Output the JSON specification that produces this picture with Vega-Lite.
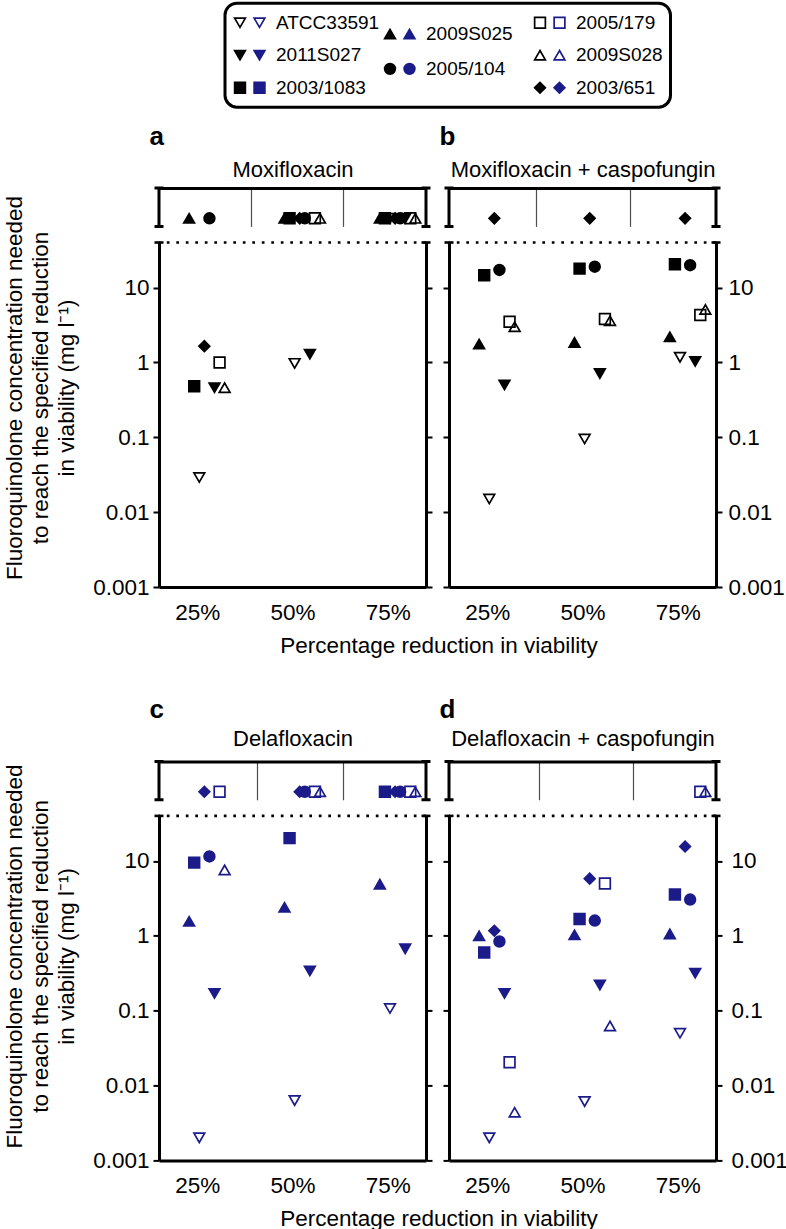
{
  "$schema": "https://vega.github.io/schema/vega-lite/v6.json",
  "padding": {"left": 2, "top": 1, "right": 0, "bottom": 0},
  "datasets": {
    "pts": [
      {"panel":"a","reduction":25,"strain":"ATCC33591","conc":0.029},
      {"panel":"a","reduction":25,"strain":"2011S027","conc":0.46},
      {"panel":"a","reduction":25,"strain":"2003/1083","conc":0.48},
      {"panel":"a","reduction":25,"strain":"2009S025","conc":null},
      {"panel":"a","reduction":25,"strain":"2005/104","conc":null},
      {"panel":"a","reduction":25,"strain":"2005/179","conc":1.0},
      {"panel":"a","reduction":25,"strain":"2009S028","conc":0.46},
      {"panel":"a","reduction":25,"strain":"2003/651","conc":1.65},
      {"panel":"a","reduction":50,"strain":"ATCC33591","conc":0.97},
      {"panel":"a","reduction":50,"strain":"2011S027","conc":1.29},
      {"panel":"a","reduction":50,"strain":"2003/1083","conc":null},
      {"panel":"a","reduction":50,"strain":"2009S025","conc":null},
      {"panel":"a","reduction":50,"strain":"2005/104","conc":null},
      {"panel":"a","reduction":50,"strain":"2005/179","conc":null},
      {"panel":"a","reduction":50,"strain":"2009S028","conc":null},
      {"panel":"a","reduction":50,"strain":"2003/651","conc":null},
      {"panel":"a","reduction":75,"strain":"ATCC33591","conc":null},
      {"panel":"a","reduction":75,"strain":"2011S027","conc":null},
      {"panel":"a","reduction":75,"strain":"2003/1083","conc":null},
      {"panel":"a","reduction":75,"strain":"2009S025","conc":null},
      {"panel":"a","reduction":75,"strain":"2005/104","conc":null},
      {"panel":"a","reduction":75,"strain":"2005/179","conc":null},
      {"panel":"a","reduction":75,"strain":"2009S028","conc":null},
      {"panel":"a","reduction":75,"strain":"2003/651","conc":null},
      {"panel":"b","reduction":25,"strain":"ATCC33591","conc":0.015},
      {"panel":"b","reduction":25,"strain":"2011S027","conc":0.5},
      {"panel":"b","reduction":25,"strain":"2003/1083","conc":14.6},
      {"panel":"b","reduction":25,"strain":"2009S025","conc":1.76},
      {"panel":"b","reduction":25,"strain":"2005/104","conc":17.2},
      {"panel":"b","reduction":25,"strain":"2005/179","conc":3.5},
      {"panel":"b","reduction":25,"strain":"2009S028","conc":3.0},
      {"panel":"b","reduction":25,"strain":"2003/651","conc":null},
      {"panel":"b","reduction":50,"strain":"ATCC33591","conc":0.095},
      {"panel":"b","reduction":50,"strain":"2011S027","conc":0.71},
      {"panel":"b","reduction":50,"strain":"2003/1083","conc":17.9},
      {"panel":"b","reduction":50,"strain":"2009S025","conc":1.85},
      {"panel":"b","reduction":50,"strain":"2005/104","conc":19.0},
      {"panel":"b","reduction":50,"strain":"2005/179","conc":3.8},
      {"panel":"b","reduction":50,"strain":"2009S028","conc":3.6},
      {"panel":"b","reduction":50,"strain":"2003/651","conc":null},
      {"panel":"b","reduction":75,"strain":"ATCC33591","conc":1.17},
      {"panel":"b","reduction":75,"strain":"2011S027","conc":1.03},
      {"panel":"b","reduction":75,"strain":"2003/1083","conc":20.5},
      {"panel":"b","reduction":75,"strain":"2009S025","conc":2.2},
      {"panel":"b","reduction":75,"strain":"2005/104","conc":19.9},
      {"panel":"b","reduction":75,"strain":"2005/179","conc":4.3},
      {"panel":"b","reduction":75,"strain":"2009S028","conc":5.1},
      {"panel":"b","reduction":75,"strain":"2003/651","conc":null},
      {"panel":"c","reduction":25,"strain":"ATCC33591","conc":0.002},
      {"panel":"c","reduction":25,"strain":"2011S027","conc":0.17},
      {"panel":"c","reduction":25,"strain":"2003/1083","conc":9.5},
      {"panel":"c","reduction":25,"strain":"2009S025","conc":1.56},
      {"panel":"c","reduction":25,"strain":"2005/104","conc":11.5},
      {"panel":"c","reduction":25,"strain":"2005/179","conc":null},
      {"panel":"c","reduction":25,"strain":"2009S028","conc":7.6},
      {"panel":"c","reduction":25,"strain":"2003/651","conc":null},
      {"panel":"c","reduction":50,"strain":"ATCC33591","conc":0.0063},
      {"panel":"c","reduction":50,"strain":"2011S027","conc":0.34},
      {"panel":"c","reduction":50,"strain":"2003/1083","conc":20.2},
      {"panel":"c","reduction":50,"strain":"2009S025","conc":2.4},
      {"panel":"c","reduction":50,"strain":"2005/104","conc":null},
      {"panel":"c","reduction":50,"strain":"2005/179","conc":null},
      {"panel":"c","reduction":50,"strain":"2009S028","conc":null},
      {"panel":"c","reduction":50,"strain":"2003/651","conc":null},
      {"panel":"c","reduction":75,"strain":"ATCC33591","conc":0.107},
      {"panel":"c","reduction":75,"strain":"2011S027","conc":0.67},
      {"panel":"c","reduction":75,"strain":"2003/1083","conc":null},
      {"panel":"c","reduction":75,"strain":"2009S025","conc":4.9},
      {"panel":"c","reduction":75,"strain":"2005/104","conc":null},
      {"panel":"c","reduction":75,"strain":"2005/179","conc":null},
      {"panel":"c","reduction":75,"strain":"2009S028","conc":null},
      {"panel":"c","reduction":75,"strain":"2003/651","conc":null},
      {"panel":"d","reduction":25,"strain":"ATCC33591","conc":0.002},
      {"panel":"d","reduction":25,"strain":"2011S027","conc":0.17},
      {"panel":"d","reduction":25,"strain":"2003/1083","conc":0.6},
      {"panel":"d","reduction":25,"strain":"2009S025","conc":1.0},
      {"panel":"d","reduction":25,"strain":"2005/104","conc":0.84},
      {"panel":"d","reduction":25,"strain":"2005/179","conc":0.0205},
      {"panel":"d","reduction":25,"strain":"2009S028","conc":0.0044},
      {"panel":"d","reduction":25,"strain":"2003/651","conc":1.17},
      {"panel":"d","reduction":50,"strain":"ATCC33591","conc":0.0061},
      {"panel":"d","reduction":50,"strain":"2011S027","conc":0.22},
      {"panel":"d","reduction":50,"strain":"2003/1083","conc":1.68},
      {"panel":"d","reduction":50,"strain":"2009S025","conc":1.03},
      {"panel":"d","reduction":50,"strain":"2005/104","conc":1.6},
      {"panel":"d","reduction":50,"strain":"2005/179","conc":5.0},
      {"panel":"d","reduction":50,"strain":"2009S028","conc":0.0625},
      {"panel":"d","reduction":50,"strain":"2003/651","conc":5.8},
      {"panel":"d","reduction":75,"strain":"ATCC33591","conc":0.05},
      {"panel":"d","reduction":75,"strain":"2011S027","conc":0.316},
      {"panel":"d","reduction":75,"strain":"2003/1083","conc":3.57},
      {"panel":"d","reduction":75,"strain":"2009S025","conc":1.06},
      {"panel":"d","reduction":75,"strain":"2005/104","conc":3.05},
      {"panel":"d","reduction":75,"strain":"2005/179","conc":null},
      {"panel":"d","reduction":75,"strain":"2009S028","conc":null},
      {"panel":"d","reduction":75,"strain":"2003/651","conc":15.6}
    ],
    "legend": [
      {"strain":"ATCC33591","col":1,"row":1},
      {"strain":"2011S027","col":1,"row":2},
      {"strain":"2003/1083","col":1,"row":3},
      {"strain":"2009S025","col":2,"row":1.35},
      {"strain":"2005/104","col":2,"row":2.42},
      {"strain":"2005/179","col":3,"row":1},
      {"strain":"2009S028","col":3,"row":2},
      {"strain":"2003/651","col":3,"row":3}
    ]
  },
  "data": {"name": "pts"},
  "columns": 2,
  "spacing": {"row": 174.4, "column": 23},
  "bounds": "flush",
  "concat": [
    {
      "width": 267, "height": 399,
      "resolve": {"scale": {"x": "independent", "y": "independent"}},
      "layer": [
        {"data": {"values": [{}]},
         "mark": {"type": "rect", "filled": false, "stroke": "black", "strokeWidth": 3, "cornerRadius": 12},
         "encoding": {
           "x": {"datum": 0.9, "type": "quantitative", "scale": {"domain": [0.9, 3.9], "range": [66, 516], "nice": false, "zero": false}, "axis": null},
           "x2": {"datum": 3.87},
           "y": {"datum": 0.4, "type": "quantitative", "scale": {"domain": [0.4, 3.6], "range": [-184.8, -80.8], "nice": false, "zero": false}, "axis": null},
           "y2": {"datum": 3.6}}},
        {"data": {"name": "legend"},
         "mark": {"type": "point", "filled": true, "size": 115, "strokeWidth": 1.7, "stroke": "black", "opacity": 1},
         "encoding": {
           "x": {"field": "col", "type": "quantitative", "scale": {"domain": [0.9, 3.9], "range": [66, 516], "nice": false, "zero": false}, "axis": null},
           "y": {"field": "row", "type": "quantitative", "scale": {"domain": [0.4, 3.6], "range": [-184.8, -80.8], "nice": false, "zero": false}, "axis": null},
           "shape": {"field": "strain", "type": "nominal", "scale": {"domain": ["ATCC33591","2011S027","2003/1083","2009S025","2005/104","2005/179","2009S028","2003/651"], "range": ["triangle-down","triangle-down","square","triangle-up","circle","square","triangle-up","diamond"]}, "legend": null},
           "fill": {"condition": {"test": "indexof(['ATCC33591','2005/179','2009S028'], datum.strain) >= 0", "value": "transparent"}, "value": "black"}}},
        {"data": {"name": "legend"},
         "mark": {"type": "point", "filled": true, "size": 115, "strokeWidth": 1.7, "stroke": "#1b1b8a", "opacity": 1, "xOffset": 19.5},
         "encoding": {
           "x": {"field": "col", "type": "quantitative", "scale": {"domain": [0.9, 3.9], "range": [66, 516], "nice": false, "zero": false}, "axis": null},
           "y": {"field": "row", "type": "quantitative", "scale": {"domain": [0.4, 3.6], "range": [-184.8, -80.8], "nice": false, "zero": false}, "axis": null},
           "shape": {"field": "strain", "type": "nominal", "scale": {"domain": ["ATCC33591","2011S027","2003/1083","2009S025","2005/104","2005/179","2009S028","2003/651"], "range": ["triangle-down","triangle-down","square","triangle-up","circle","square","triangle-up","diamond"]}, "legend": null},
           "fill": {"condition": {"test": "indexof(['ATCC33591','2005/179','2009S028'], datum.strain) >= 0", "value": "transparent"}, "value": "#1b1b8a"}}},
        {"data": {"name": "legend"},
         "mark": {"type": "text", "align": "left", "baseline": "middle", "dx": 36, "fontSize": 19, "color": "black"},
         "encoding": {
           "x": {"field": "col", "type": "quantitative", "scale": {"domain": [0.9, 3.9], "range": [66, 516], "nice": false, "zero": false}, "axis": null},
           "y": {"field": "row", "type": "quantitative", "scale": {"domain": [0.4, 3.6], "range": [-184.8, -80.8], "nice": false, "zero": false}, "axis": null},
           "text": {"field": "strain"}}},
        {"data": {"values": [{"edge": 15}, {"edge": 85}]},
         "mark": {"type": "point", "shape": "M-0.234,-1L0.234,-1M0,-1L0,1M-0.234,1L0.234,1", "size": 1475, "filled": false, "stroke": "black", "strokeWidth": 3, "opacity": 1},
         "encoding": {
           "x": {"field": "edge", "type": "quantitative", "scale": {"domain": [15, 85], "nice": false, "zero": false},
                 "axis": {"orient": "top", "values": [39.2, 63.2], "grid": true, "gridColor": "#4d4d4d", "gridWidth": 1.2, "ticks": false, "labels": false, "domain": true, "title": "Moxifloxacin", "titleFontSize": 22, "titleBaseline": "alphabetic", "titleY": -11.3}},
           "y": {"datum": 0.5, "type": "quantitative", "scale": {"domain": [0, 1], "range": [0, 38.4], "nice": false, "zero": false}, "axis": null}}},
        {"data": {"values": [{"edge": 15}, {"edge": 85}]},
         "mark": {"type": "point", "shape": "M-1,0L1,0", "size": 81, "filled": false, "stroke": "black", "strokeWidth": 2.6, "opacity": 1},
         "encoding": {
           "x": {"field": "edge", "type": "quantitative", "scale": {"domain": [15, 85], "nice": false, "zero": false}, "axis": null},
           "y": {"datum": 40, "type": "quantitative", "scale": {"type": "log", "domain": [0.001, 40], "range": [399, 54.5], "nice": false}, "axis": null}}},
        {"data": {"values": [{}]},
         "mark": {"type": "rule", "stroke": "black", "strokeWidth": 2.6, "strokeDash": [2.7, 6.8]},
         "encoding": {
           "y": {"datum": 40, "type": "quantitative", "scale": {"type": "log", "domain": [0.001, 40], "range": [399, 54.5], "nice": false},
                 "axis": {"orient": "right", "values": [0.001, 0.01, 0.1, 1, 10], "labels": false, "title": null}}}},
        {"transform": [{"filter": "datum.panel == 'a' && datum.conc == null"}],
         "mark": {"type": "point", "filled": true, "size": 115, "strokeWidth": 1.7, "stroke": "black", "opacity": 1},
         "encoding": {
           "x": {"field": "reduction", "type": "ordinal", "scale": {"type": "point", "domain": [25, 50, 75], "padding": 0.4}, "axis": null},
           "xOffset": {"field": "strain", "type": "nominal", "scale": {"type": "point", "domain": ["2009S025","2003/1083","ATCC33591","2003/651","2005/104","2011S027","2005/179","2009S028"], "range": [-8, 27.5], "padding": 0}},
           "y": {"datum": 0.79, "type": "quantitative", "scale": {"domain": [0, 1], "range": [0, 38.4], "nice": false, "zero": false},
                 "axis": {"orient": "left", "domain": false, "ticks": false, "labels": false, "title": "a", "titleAngle": 0, "titleAlign": "left", "titleBaseline": "alphabetic", "titleX": -10, "titleY": -43.5, "titleFontSize": 26, "titleFontWeight": "bold"}},
           "shape": {"field": "strain", "type": "nominal", "scale": {"domain": ["ATCC33591","2011S027","2003/1083","2009S025","2005/104","2005/179","2009S028","2003/651"], "range": ["triangle-down","triangle-down","square","triangle-up","circle","square","triangle-up","diamond"]}, "legend": null},
           "fill": {"condition": {"test": "indexof(['ATCC33591','2005/179','2009S028'], datum.strain) >= 0", "value": "transparent"}, "value": "black"}}},
        {"transform": [{"filter": "datum.panel == 'a' && datum.conc != null"}],
         "mark": {"type": "point", "filled": true, "size": 115, "strokeWidth": 1.7, "stroke": "black", "opacity": 1},
         "encoding": {
           "x": {"field": "reduction", "type": "ordinal", "scale": {"type": "point", "domain": [25, 50, 75], "padding": 0.4},
                 "axis": {"orient": "bottom", "ticks": false, "tickSize": 0, "labelPadding": 14, "labelAngle": 0, "labelExpr": "datum.label + '%'", "title": "Percentage reduction in viability", "titleX": 279.5, "titleY": 47, "titleBaseline": "top"}},
           "xOffset": {"field": "strain", "type": "nominal", "scale": {"type": "point", "domain": ["2009S025","2003/1083","ATCC33591","2003/651","2005/104","2011S027","2005/179","2009S028"], "range": [-8, 27.5], "padding": 0}},
           "y": {"field": "conc", "type": "quantitative", "scale": {"type": "log", "domain": [0.001, 40], "range": [399, 54.5], "nice": false},
                 "axis": {"orient": "left", "values": [0.001, 0.01, 0.1, 1, 10], "format": "~g", "labelPadding": 4, "title": ["Fluoroquinolone concentration needed", "to reach the specified reduction", "in viability (mg l⁻¹)"], "titleX": -133, "titleY": 199.5, "titleLineHeight": 26}},
           "shape": {"field": "strain", "type": "nominal", "scale": {"domain": ["ATCC33591","2011S027","2003/1083","2009S025","2005/104","2005/179","2009S028","2003/651"], "range": ["triangle-down","triangle-down","square","triangle-up","circle","square","triangle-up","diamond"]}, "legend": null},
           "fill": {"condition": {"test": "indexof(['ATCC33591','2005/179','2009S028'], datum.strain) >= 0", "value": "transparent"}, "value": "black"}}}
      ]
    },
    {
      "width": 267, "height": 399,
      "resolve": {"scale": {"x": "independent", "y": "independent"}},
      "layer": [
        {"data": {"values": [{"edge": 15}, {"edge": 85}]},
         "mark": {"type": "point", "shape": "M-0.234,-1L0.234,-1M0,-1L0,1M-0.234,1L0.234,1", "size": 1475, "filled": false, "stroke": "black", "strokeWidth": 3, "opacity": 1},
         "encoding": {
           "x": {"field": "edge", "type": "quantitative", "scale": {"domain": [15, 85], "nice": false, "zero": false},
                 "axis": {"orient": "top", "values": [37.8, 62.5], "grid": true, "gridColor": "#4d4d4d", "gridWidth": 1.2, "ticks": false, "labels": false, "domain": true, "title": "Moxifloxacin + caspofungin", "titleFontSize": 22, "titleBaseline": "alphabetic", "titleY": -11.3}},
           "y": {"datum": 0.5, "type": "quantitative", "scale": {"domain": [0, 1], "range": [0, 38.4], "nice": false, "zero": false}, "axis": null}}},
        {"data": {"values": [{"edge": 15}, {"edge": 85}]},
         "mark": {"type": "point", "shape": "M-1,0L1,0", "size": 81, "filled": false, "stroke": "black", "strokeWidth": 2.6, "opacity": 1},
         "encoding": {
           "x": {"field": "edge", "type": "quantitative", "scale": {"domain": [15, 85], "nice": false, "zero": false}, "axis": null},
           "y": {"datum": 40, "type": "quantitative", "scale": {"type": "log", "domain": [0.001, 40], "range": [399, 54.5], "nice": false}, "axis": null}}},
        {"data": {"values": [{}]},
         "mark": {"type": "rule", "stroke": "black", "strokeWidth": 2.6, "strokeDash": [2.7, 6.8]},
         "encoding": {
           "y": {"datum": 40, "type": "quantitative", "scale": {"type": "log", "domain": [0.001, 40], "range": [399, 54.5], "nice": false},
                 "axis": {"orient": "right", "values": [0.001, 0.01, 0.1, 1, 10], "format": "~g", "labelPadding": 6, "title": null}}}},
        {"transform": [{"filter": "datum.panel == 'b' && datum.conc == null"}],
         "mark": {"type": "point", "filled": true, "size": 115, "strokeWidth": 1.7, "stroke": "black", "opacity": 1},
         "encoding": {
           "x": {"field": "reduction", "type": "ordinal", "scale": {"type": "point", "domain": [25, 50, 75], "padding": 0.4}, "axis": null},
           "xOffset": {"field": "strain", "type": "nominal", "scale": {"type": "point", "domain": ["2009S025","2003/1083","ATCC33591","2003/651","2005/104","2011S027","2005/179","2009S028"], "range": [-8, 27.5], "padding": 0}},
           "y": {"datum": 0.79, "type": "quantitative", "scale": {"domain": [0, 1], "range": [0, 38.4], "nice": false, "zero": false},
                 "axis": {"orient": "left", "domain": false, "ticks": false, "labels": false, "title": "b", "titleAngle": 0, "titleAlign": "left", "titleBaseline": "alphabetic", "titleX": -10, "titleY": -43.5, "titleFontSize": 26, "titleFontWeight": "bold"}},
           "shape": {"field": "strain", "type": "nominal", "scale": {"domain": ["ATCC33591","2011S027","2003/1083","2009S025","2005/104","2005/179","2009S028","2003/651"], "range": ["triangle-down","triangle-down","square","triangle-up","circle","square","triangle-up","diamond"]}, "legend": null},
           "fill": {"condition": {"test": "indexof(['ATCC33591','2005/179','2009S028'], datum.strain) >= 0", "value": "transparent"}, "value": "black"}}},
        {"transform": [{"filter": "datum.panel == 'b' && datum.conc != null"}],
         "mark": {"type": "point", "filled": true, "size": 115, "strokeWidth": 1.7, "stroke": "black", "opacity": 1},
         "encoding": {
           "x": {"field": "reduction", "type": "ordinal", "scale": {"type": "point", "domain": [25, 50, 75], "padding": 0.4},
                 "axis": {"orient": "bottom", "ticks": false, "tickSize": 0, "labelPadding": 14, "labelAngle": 0, "labelExpr": "datum.label + '%'", "title": null}},
           "xOffset": {"field": "strain", "type": "nominal", "scale": {"type": "point", "domain": ["2009S025","2003/1083","ATCC33591","2003/651","2005/104","2011S027","2005/179","2009S028"], "range": [-8, 27.5], "padding": 0}},
           "y": {"field": "conc", "type": "quantitative", "scale": {"type": "log", "domain": [0.001, 40], "range": [399, 54.5], "nice": false},
                 "axis": {"orient": "left", "values": [0.001, 0.01, 0.1, 1, 10], "labels": false, "title": null}},
           "shape": {"field": "strain", "type": "nominal", "scale": {"domain": ["ATCC33591","2011S027","2003/1083","2009S025","2005/104","2005/179","2009S028","2003/651"], "range": ["triangle-down","triangle-down","square","triangle-up","circle","square","triangle-up","diamond"]}, "legend": null},
           "fill": {"condition": {"test": "indexof(['ATCC33591','2005/179','2009S028'], datum.strain) >= 0", "value": "transparent"}, "value": "black"}}}
      ]
    },
    {
      "width": 267, "height": 399,
      "resolve": {"scale": {"x": "independent", "y": "independent"}},
      "layer": [
        {"data": {"values": [{"edge": 15}, {"edge": 85}]},
         "mark": {"type": "point", "shape": "M-0.234,-1L0.234,-1M0,-1L0,1M-0.234,1L0.234,1", "size": 1475, "filled": false, "stroke": "black", "strokeWidth": 3, "opacity": 1},
         "encoding": {
           "x": {"field": "edge", "type": "quantitative", "scale": {"domain": [15, 85], "nice": false, "zero": false},
                 "axis": {"orient": "top", "values": [40.7, 63.2], "grid": true, "gridColor": "#4d4d4d", "gridWidth": 1.2, "ticks": false, "labels": false, "domain": true, "title": "Delafloxacin", "titleFontSize": 22, "titleBaseline": "alphabetic", "titleY": -15.7}},
           "y": {"datum": 0.5, "type": "quantitative", "scale": {"domain": [0, 1], "range": [0, 38.4], "nice": false, "zero": false}, "axis": null}}},
        {"data": {"values": [{"edge": 15}, {"edge": 85}]},
         "mark": {"type": "point", "shape": "M-1,0L1,0", "size": 81, "filled": false, "stroke": "black", "strokeWidth": 2.6, "opacity": 1},
         "encoding": {
           "x": {"field": "edge", "type": "quantitative", "scale": {"domain": [15, 85], "nice": false, "zero": false}, "axis": null},
           "y": {"datum": 40, "type": "quantitative", "scale": {"type": "log", "domain": [0.001, 40], "range": [399, 54.5], "nice": false}, "axis": null}}},
        {"data": {"values": [{}]},
         "mark": {"type": "rule", "stroke": "black", "strokeWidth": 2.6, "strokeDash": [2.7, 6.8]},
         "encoding": {
           "y": {"datum": 40, "type": "quantitative", "scale": {"type": "log", "domain": [0.001, 40], "range": [399, 54.5], "nice": false},
                 "axis": {"orient": "right", "values": [0.001, 0.01, 0.1, 1, 10], "labels": false, "title": null}}}},
        {"transform": [{"filter": "datum.panel == 'c' && datum.conc == null"}],
         "mark": {"type": "point", "filled": true, "size": 115, "strokeWidth": 1.7, "stroke": "#1b1b8a", "opacity": 1},
         "encoding": {
           "x": {"field": "reduction", "type": "ordinal", "scale": {"type": "point", "domain": [25, 50, 75], "padding": 0.4}, "axis": null},
           "xOffset": {"field": "strain", "type": "nominal", "scale": {"type": "point", "domain": ["2009S025","2003/1083","ATCC33591","2003/651","2005/104","2011S027","2005/179","2009S028"], "range": [-8, 27.5], "padding": 0}},
           "y": {"datum": 0.79, "type": "quantitative", "scale": {"domain": [0, 1], "range": [0, 38.4], "nice": false, "zero": false},
                 "axis": {"orient": "left", "domain": false, "ticks": false, "labels": false, "title": "c", "titleAngle": 0, "titleAlign": "left", "titleBaseline": "alphabetic", "titleX": -10, "titleY": -43.5, "titleFontSize": 26, "titleFontWeight": "bold"}},
           "shape": {"field": "strain", "type": "nominal", "scale": {"domain": ["ATCC33591","2011S027","2003/1083","2009S025","2005/104","2005/179","2009S028","2003/651"], "range": ["triangle-down","triangle-down","square","triangle-up","circle","square","triangle-up","diamond"]}, "legend": null},
           "fill": {"condition": {"test": "indexof(['ATCC33591','2005/179','2009S028'], datum.strain) >= 0", "value": "transparent"}, "value": "#1b1b8a"}}},
        {"transform": [{"filter": "datum.panel == 'c' && datum.conc != null"}],
         "mark": {"type": "point", "filled": true, "size": 115, "strokeWidth": 1.7, "stroke": "#1b1b8a", "opacity": 1},
         "encoding": {
           "x": {"field": "reduction", "type": "ordinal", "scale": {"type": "point", "domain": [25, 50, 75], "padding": 0.4},
                 "axis": {"orient": "bottom", "ticks": false, "tickSize": 0, "labelPadding": 14, "labelAngle": 0, "labelExpr": "datum.label + '%'", "title": "Percentage reduction in viability", "titleX": 279.5, "titleY": 47, "titleBaseline": "top"}},
           "xOffset": {"field": "strain", "type": "nominal", "scale": {"type": "point", "domain": ["2009S025","2003/1083","ATCC33591","2003/651","2005/104","2011S027","2005/179","2009S028"], "range": [-8, 27.5], "padding": 0}},
           "y": {"field": "conc", "type": "quantitative", "scale": {"type": "log", "domain": [0.001, 40], "range": [399, 54.5], "nice": false},
                 "axis": {"orient": "left", "values": [0.001, 0.01, 0.1, 1, 10], "format": "~g", "labelPadding": 4, "title": ["Fluoroquinolone concentration needed", "to reach the specified reduction", "in viability (mg l⁻¹)"], "titleX": -133, "titleY": 194.5, "titleLineHeight": 26}},
           "shape": {"field": "strain", "type": "nominal", "scale": {"domain": ["ATCC33591","2011S027","2003/1083","2009S025","2005/104","2005/179","2009S028","2003/651"], "range": ["triangle-down","triangle-down","square","triangle-up","circle","square","triangle-up","diamond"]}, "legend": null},
           "fill": {"condition": {"test": "indexof(['ATCC33591','2005/179','2009S028'], datum.strain) >= 0", "value": "transparent"}, "value": "#1b1b8a"}}}
      ]
    },
    {
      "width": 267, "height": 399,
      "resolve": {"scale": {"x": "independent", "y": "independent"}},
      "layer": [
        {"data": {"values": [{"edge": 15}, {"edge": 85}]},
         "mark": {"type": "point", "shape": "M-0.234,-1L0.234,-1M0,-1L0,1M-0.234,1L0.234,1", "size": 1475, "filled": false, "stroke": "black", "strokeWidth": 3, "opacity": 1},
         "encoding": {
           "x": {"field": "edge", "type": "quantitative", "scale": {"domain": [15, 85], "nice": false, "zero": false},
                 "axis": {"orient": "top", "values": [38.6, 63.2], "grid": true, "gridColor": "#4d4d4d", "gridWidth": 1.2, "ticks": false, "labels": false, "domain": true, "title": "Delafloxacin + caspofungin", "titleFontSize": 22, "titleBaseline": "alphabetic", "titleY": -15.7}},
           "y": {"datum": 0.5, "type": "quantitative", "scale": {"domain": [0, 1], "range": [0, 38.4], "nice": false, "zero": false}, "axis": null}}},
        {"data": {"values": [{"edge": 15}, {"edge": 85}]},
         "mark": {"type": "point", "shape": "M-1,0L1,0", "size": 81, "filled": false, "stroke": "black", "strokeWidth": 2.6, "opacity": 1},
         "encoding": {
           "x": {"field": "edge", "type": "quantitative", "scale": {"domain": [15, 85], "nice": false, "zero": false}, "axis": null},
           "y": {"datum": 40, "type": "quantitative", "scale": {"type": "log", "domain": [0.001, 40], "range": [399, 54.5], "nice": false}, "axis": null}}},
        {"data": {"values": [{}]},
         "mark": {"type": "rule", "stroke": "black", "strokeWidth": 2.6, "strokeDash": [2.7, 6.8]},
         "encoding": {
           "y": {"datum": 40, "type": "quantitative", "scale": {"type": "log", "domain": [0.001, 40], "range": [399, 54.5], "nice": false},
                 "axis": {"orient": "right", "values": [0.001, 0.01, 0.1, 1, 10], "format": "~g", "labelPadding": 9, "title": null}}}},
        {"transform": [{"filter": "datum.panel == 'd' && datum.conc == null"}],
         "mark": {"type": "point", "filled": true, "size": 115, "strokeWidth": 1.7, "stroke": "#1b1b8a", "opacity": 1},
         "encoding": {
           "x": {"field": "reduction", "type": "ordinal", "scale": {"type": "point", "domain": [25, 50, 75], "padding": 0.4}, "axis": null},
           "xOffset": {"field": "strain", "type": "nominal", "scale": {"type": "point", "domain": ["2009S025","2003/1083","ATCC33591","2003/651","2005/104","2011S027","2005/179","2009S028"], "range": [-8, 27.5], "padding": 0}},
           "y": {"datum": 0.79, "type": "quantitative", "scale": {"domain": [0, 1], "range": [0, 38.4], "nice": false, "zero": false},
                 "axis": {"orient": "left", "domain": false, "ticks": false, "labels": false, "title": "d", "titleAngle": 0, "titleAlign": "left", "titleBaseline": "alphabetic", "titleX": -10, "titleY": -43.5, "titleFontSize": 26, "titleFontWeight": "bold"}},
           "shape": {"field": "strain", "type": "nominal", "scale": {"domain": ["ATCC33591","2011S027","2003/1083","2009S025","2005/104","2005/179","2009S028","2003/651"], "range": ["triangle-down","triangle-down","square","triangle-up","circle","square","triangle-up","diamond"]}, "legend": null},
           "fill": {"condition": {"test": "indexof(['ATCC33591','2005/179','2009S028'], datum.strain) >= 0", "value": "transparent"}, "value": "#1b1b8a"}}},
        {"transform": [{"filter": "datum.panel == 'd' && datum.conc != null"}],
         "mark": {"type": "point", "filled": true, "size": 115, "strokeWidth": 1.7, "stroke": "#1b1b8a", "opacity": 1},
         "encoding": {
           "x": {"field": "reduction", "type": "ordinal", "scale": {"type": "point", "domain": [25, 50, 75], "padding": 0.4},
                 "axis": {"orient": "bottom", "ticks": false, "tickSize": 0, "labelPadding": 14, "labelAngle": 0, "labelExpr": "datum.label + '%'", "title": null}},
           "xOffset": {"field": "strain", "type": "nominal", "scale": {"type": "point", "domain": ["2009S025","2003/1083","ATCC33591","2003/651","2005/104","2011S027","2005/179","2009S028"], "range": [-8, 27.5], "padding": 0}},
           "y": {"field": "conc", "type": "quantitative", "scale": {"type": "log", "domain": [0.001, 40], "range": [399, 54.5], "nice": false},
                 "axis": {"orient": "left", "values": [0.001, 0.01, 0.1, 1, 10], "labels": false, "title": null}},
           "shape": {"field": "strain", "type": "nominal", "scale": {"domain": ["ATCC33591","2011S027","2003/1083","2009S025","2005/104","2005/179","2009S028","2003/651"], "range": ["triangle-down","triangle-down","square","triangle-up","circle","square","triangle-up","diamond"]}, "legend": null},
           "fill": {"condition": {"test": "indexof(['ATCC33591','2005/179','2009S028'], datum.strain) >= 0", "value": "transparent"}, "value": "#1b1b8a"}}}
      ]
    }
  ],
  "config": {
    "font": "Liberation Sans",
    "view": {"stroke": null},
    "axis": {
      "domainColor": "black", "domainWidth": 3, "tickColor": "black", "tickWidth": 2, "tickSize": 6,
      "labelColor": "black", "labelFontSize": 22.5, "titleColor": "black", "titleFontSize": 22.5,
      "titleFontWeight": "normal", "grid": false
    }
  }
}
